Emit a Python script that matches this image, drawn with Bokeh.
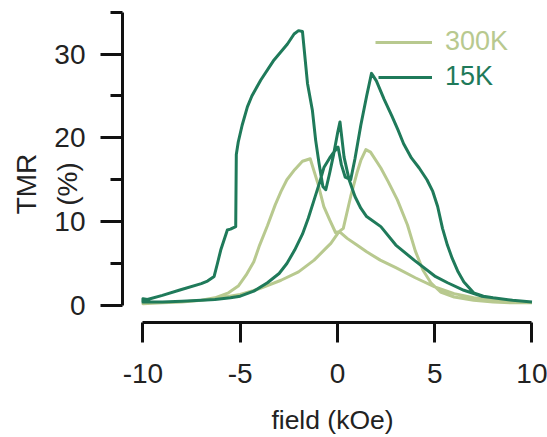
from bokeh.plotting import figure
from bokeh.models import Range1d, FixedTicker, Legend, LegendItem, LinearAxis
from bokeh.embed import file_html
from bokeh.resources import INLINE

# ---- data ----
# 15 K, sweep from +10 to -10 kOe
field_15K_down = [10, 9, 8, 7.4, 6.5, 5.66, 5, 3.94, 3, 2.23, 1.5, 1.2, 0.9, 0.6, 0.34, 0.13, 0.0,
                  -0.2, -0.4, -0.6, -0.75, -0.95, -1.12, -1.29, -1.54, -1.8, -2.0, -2.23, -2.57,
                  -3.26, -3.94, -4.4, -4.63, -4.9, -5.1, -5.2, -5.23, -5.5, -5.66, -5.83, -6.0,
                  -6.17, -6.34, -6.68, -7.0, -8.06, -9.0, -9.77, -10]
tmr_15K_down = [0.4, 0.6, 0.9, 1.1, 1.8, 2.7, 3.5, 5.4, 7.2, 9.4, 10.6, 11.6, 13.0, 15.0, 17.7, 21.9, 20.5,
                18.0, 15.8, 13.8, 14.2, 17.0, 19.7, 23.3, 26.5, 32.7, 32.8, 32.4, 31.2,
                29.3, 26.9, 25.0, 23.7, 21.5, 19.5, 18.0, 9.4, 9.1, 9.0, 7.8, 6.6,
                5.0, 3.45, 2.9, 2.6, 1.87, 1.2, 0.7, 0.8]

# 15 K, sweep from -10 to +10 kOe
field_15K_up = [-10, -9, -8, -7, -6.3, -5.5, -5, -4.3, -3.6, -3, -2.6, -2.2, -1.8, -1.5, -1.2, -0.9,
                -0.69, -0.4, -0.15, 0.03, 0.2, 0.4, 0.68, 0.9, 1.2, 1.5, 1.75, 2.0, 2.4, 2.8, 3.1,
                3.4, 3.8, 4.2, 4.6, 4.9, 5.15, 5.4, 5.65, 5.9, 6.2, 6.5, 7.0, 7.5, 8, 9, 10]
tmr_15K_up = [0.4, 0.4, 0.5, 0.6, 0.7, 0.9, 1.1, 1.7, 2.7, 3.8, 5.0, 6.6, 8.5, 10.4, 12.6, 14.8,
              16.5, 17.6, 18.4, 18.9, 16.8, 15.3, 15.0, 17.5, 21.5, 25.0, 27.7, 26.8, 24.6, 22.6, 21.0,
              19.3, 17.6, 16.4, 15.0, 13.6, 11.8, 9.2, 7.2, 5.6, 4.0, 2.8, 1.5, 1.1, 0.9, 0.6, 0.4]

# 300 K, sweep from +10 to -10 kOe
field_300K_down = [10, 9, 8, 7, 6, 5, 4, 3, 2.2, 1.5, 1, 0.5, 0.1, -0.1, -0.4, -0.7, -1.0, -1.4,
                   -1.8, -2.2, -2.6, -2.9, -3.2, -3.6, -4.0, -4.3, -4.7, -5.1, -5.6, -6.3, -7, -8, -9, -10]
tmr_300K_down = [0.3, 0.4, 0.6, 0.9, 1.4, 2.2, 3.3, 4.5, 5.4, 6.4, 7.2, 8.0, 8.8, 8.7, 10.2, 11.8, 14.5, 17.5,
                 17.2, 16.2, 15.0, 13.6, 12.0, 9.5, 7.2, 5.2, 3.6, 2.3, 1.5, 0.9, 0.6, 0.4, 0.3, 0.2]

# 300 K, sweep from -10 to +10 kOe
field_300K_up = [-10, -9, -8, -7, -6, -5, -4, -2.9, -2, -1.2, -0.6, -0.34, 0.08, 0.3, 0.68, 1.0, 1.2,
                 1.46, 1.7, 2.23, 2.6, 3.08, 3.6, 4.0, 4.4, 4.8, 5.3, 6.0, 7, 8, 9, 10]
tmr_300K_up = [0.2, 0.3, 0.4, 0.6, 0.9, 1.3, 2.0, 3.0, 4.0, 5.4, 6.8, 7.4, 8.8, 9.2, 13.0, 15.8, 17.3,
               18.6, 18.3, 16.4, 14.8, 12.6, 9.6, 6.5, 4.2, 2.7, 1.6, 1.0, 0.6, 0.4, 0.3, 0.3]

x_ticks = [-10, -5, 0, 5, 10]
x_tick_labels = ["-10", "-5", "0", "5", "10"]
y_ticks = [0, 10, 20, 30]
y_minor_ticks = [5, 15, 25, 35]
series_names = ["300K", "15K"]
x_title = "field (kOe)"
y_title = "TMR\n(%)"

# ---- style ----
DARK = "#1f7a5a"
LIGHT = "#b8c98f"
FONT = "Liberation Sans"
TXT = "#222222"
AX = "#111111"

# frame: left edge 122 px, top 5 px, bottom 363 px; x axis line drawn at y = -2.06
p = figure(width=547, height=437, output_backend="svg", toolbar_location=None,
           min_border_left=122, min_border_right=5, min_border_top=5, min_border_bottom=74,
           x_range=Range1d(-11.05, 10.54), y_range=Range1d(-6.82, 35.8))
p.outline_line_color = None
p.xgrid.visible = False
p.ygrid.visible = False
p.background_fill_color = "white"
p.border_fill_color = "white"

r300 = p.line(field_300K_down + field_300K_up, tmr_300K_down + tmr_300K_up,
              line_color=LIGHT, line_width=3, line_join="round")
r15 = p.line(field_15K_down + field_15K_up, tmr_15K_down + tmr_15K_up,
             line_color=DARK, line_width=3, line_join="round")

# x axis line + ticks (detached below the data, as in the reference)
xa = p.xaxis[0]
xa.fixed_location = -2.06
xa.ticker = FixedTicker(ticks=x_ticks)
xa.major_label_overrides = {t: "" for t in x_ticks}
xa.bounds = (-10, 10)
xa.axis_line_width = 3
xa.axis_line_color = AX
xa.major_tick_line_width = 3
xa.major_tick_line_color = AX
xa.major_tick_out = 20
xa.major_tick_in = 0
xa.minor_tick_line_color = None

# x tick labels + title on a second, line-less axis under the frame
xl = LinearAxis(ticker=FixedTicker(ticks=x_ticks),
                major_label_overrides=dict(zip(x_ticks, x_tick_labels)),
                axis_line_color=None, major_tick_line_color=None, minor_tick_line_color=None,
                major_tick_out=0, major_tick_in=0, major_label_standoff=1,
                major_label_text_font=FONT, major_label_text_font_size="28px",
                major_label_text_color=TXT,
                axis_label=x_title, axis_label_text_font=FONT,
                axis_label_text_font_size="26.5px", axis_label_text_font_style="normal",
                axis_label_text_color=TXT, axis_label_standoff=19)
p.add_layout(xl, "below")

# y axis
ya = p.yaxis[0]
ya.ticker = FixedTicker(ticks=y_ticks, minor_ticks=y_minor_ticks)
ya.bounds = (0, 35)
ya.axis_line_width = 3
ya.axis_line_color = AX
ya.major_tick_line_width = 3
ya.major_tick_line_color = AX
ya.major_tick_out = 22
ya.major_tick_in = 0
ya.minor_tick_line_width = 3
ya.minor_tick_line_color = AX
ya.minor_tick_out = 12
ya.minor_tick_in = 0
ya.major_label_text_font = FONT
ya.major_label_text_font_size = "28px"
ya.major_label_text_color = TXT
ya.major_label_standoff = 15
ya.axis_label = y_title
ya.axis_label_text_font = FONT
ya.axis_label_text_font_size = "28px"
ya.axis_label_text_font_style = "normal"
ya.axis_label_text_color = TXT
ya.axis_label_text_line_height = 1.32
ya.axis_label_standoff = -32

# legends (one per series so each label has its own colour)
for name, rend, col, loc, gw in [(series_names[0], r300, LIGHT, (253, 305), 57),
                                 (series_names[1], r15, DARK, (256, 270), 54)]:
    lg = Legend(items=[LegendItem(label=name, renderers=[rend])], location=loc,
                glyph_width=gw, glyph_height=26, label_height=26, label_standoff=13,
                label_text_font=FONT, label_text_font_size="27px", label_text_color=col,
                padding=0, margin=0, spacing=0, border_line_color=None,
                background_fill_alpha=0)
    p.add_layout(lg, "center")

open("out.html", "w").write(file_html(p, INLINE))
